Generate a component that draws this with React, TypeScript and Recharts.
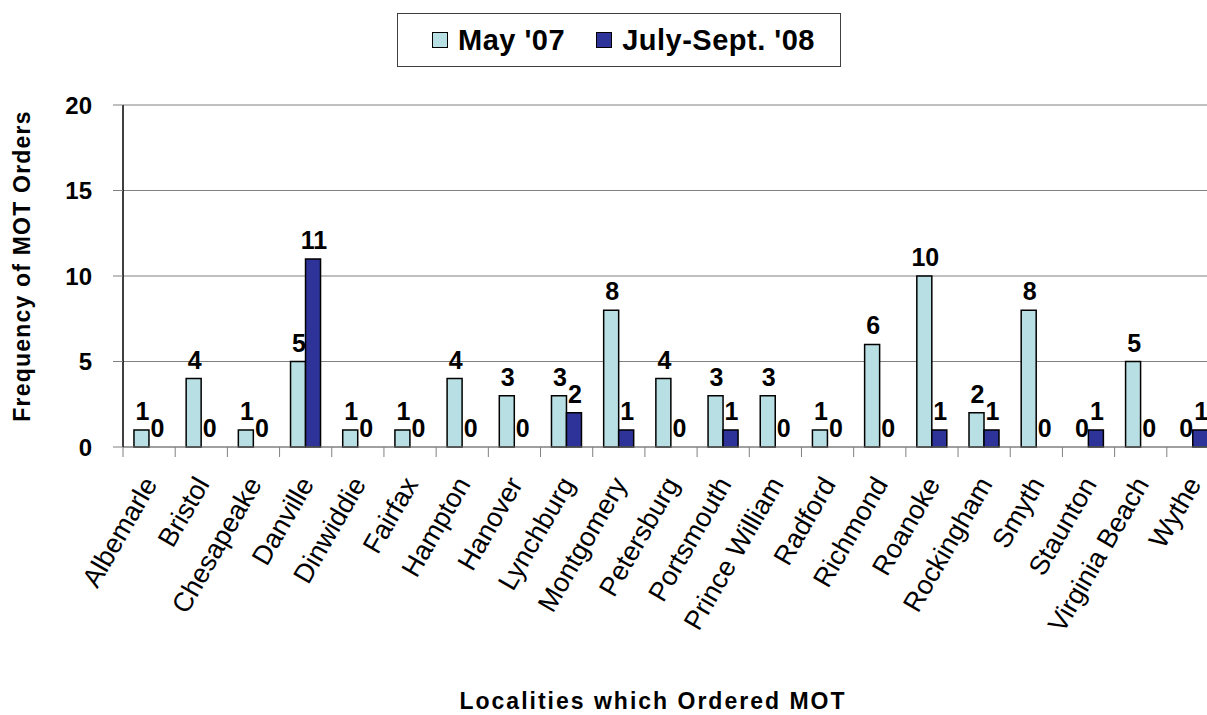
import React from 'react';
import { BarChart, Bar, XAxis, YAxis, CartesianGrid, Legend, LabelList, Label, Cell } from 'recharts';

const localities = ['Albemarle', 'Bristol', 'Chesapeake', 'Danville', 'Dinwiddie', 'Fairfax', 'Hampton', 'Hanover', 'Lynchburg', 'Montgomery', 'Petersburg', 'Portsmouth', 'Prince William', 'Radford', 'Richmond', 'Roanoke', 'Rockingham', 'Smyth', 'Staunton', 'Virginia Beach', 'Wythe'];
const may07 = [1, 4, 1, 5, 1, 1, 4, 3, 3, 8, 4, 3, 3, 1, 6, 10, 2, 8, 0, 5, 0];
const julySept08 = [0, 0, 0, 11, 0, 0, 0, 0, 2, 1, 0, 1, 0, 0, 0, 1, 1, 0, 1, 0, 1];
const yTicks = [0, 5, 10, 15, 20];
const seriesNames = ["May '07", "July-Sept. '08"];
const seriesColors = ['#B8DFE3', '#2E3399'];

const data = localities.map((name, i) => ({ name, may: may07[i], july: julySept08[i] }));

const FONT = '"Liberation Sans", Arial, sans-serif';

const XTick = (props: any) => {
  const { x, y, payload } = props;
  const half = payload && typeof payload.offset === 'number' && payload.offset > 0 ? payload.offset : 26.1;
  const ax = x + 9;
  const ay = y + 37;
  return (
    <g>
      <line x1={x - half} y1={y} x2={x - half} y2={y + 10} stroke="#808080" strokeWidth={1} />
      <text x={ax} y={ay} transform={`rotate(-60, ${ax}, ${ay})`} textAnchor="end" fontSize={27} fontFamily={FONT} fill="#000">
        {payload.value}
      </text>
    </g>
  );
};

const BarValueLabel = (props: any) => {
  const { x, y, width, height, value } = props;
  if (x == null || y == null) return null;
  const top = Math.min(Number(y), Number(y) + Number(height || 0));
  return (
    <text x={Number(x) + Number(width) / 2 + 1} y={top - 10} textAnchor="middle" fontSize={25} fontWeight="bold" fontFamily={FONT} fill="#000">
      {String(value)}
    </text>
  );
};

const LegendContent = () => (
  <div style={{ boxSizing: 'border-box', width: 444, height: 54, border: '1px solid #404040', background: '#fff', display: 'flex', alignItems: 'center', fontFamily: FONT, fontWeight: 'bold', fontSize: 29, letterSpacing: 0.5, color: '#000' }}>
    {seriesNames.map((n, i) => (
      <div key={n} style={{ display: 'flex', alignItems: 'center', marginLeft: i === 0 ? 34 : 31 }}>
        <span style={{ display: 'inline-block', boxSizing: 'border-box', width: 16, height: 16, background: seriesColors[i], border: '1.5px solid #000', marginRight: 10 }} />
        <span style={{ lineHeight: '29px' }}>{n}</span>
      </div>
    ))}
  </div>
);

const YLabel = (props: any) => {
  const vb = props.viewBox || { x: 0, y: 105, width: 123, height: 342 };
  const cx = vb.x + 22;
  const cy = vb.y + vb.height / 2 - 10;
  return (
    <text x={cx} y={cy} transform={`rotate(-90, ${cx}, ${cy})`} textAnchor="middle" dominantBaseline="central" fontSize={23} fontWeight="bold" fontFamily={FONT} letterSpacing={1.2} fill="#000">
      Frequency of MOT Orders
    </text>
  );
};

const XLabel = (props: any) => {
  const vb = props.viewBox || { x: 123, y: 447, width: 1096, height: 268 };
  const cx = vb.x + vb.width / 2 - 18;
  const cy = vb.y + vb.height - 6;
  return (
    <text x={cx} y={cy} textAnchor="middle" fontSize={23} fontWeight="bold" fontFamily={FONT} letterSpacing={2} fill="#000">
      Localities which Ordered MOT
    </text>
  );
};

export default function App() {
  return (
    <div style={{ position: 'fixed', left: 0, top: 0, width: 1207, height: 715, overflow: 'hidden', background: '#fff' }}>
      <BarChart width={1230} height={715} data={data} margin={{ top: 51, right: 11, bottom: 0, left: 0 }} barCategoryGap="21%" barGap={0}>
        <CartesianGrid horizontal vertical={false} stroke="#808080" strokeWidth={1} />
        <XAxis dataKey="name" interval={0} height={268} tickSize={0} tickMargin={0} tick={<XTick />} axisLine={{ stroke: '#808080', strokeWidth: 1 }} tickLine={false}>
          <Label content={<XLabel />} />
        </XAxis>
        <YAxis width={123} domain={[0, 20]} ticks={yTicks} interval={0} tickSize={10} tickMargin={21} axisLine={{ stroke: '#000', strokeWidth: 1.5 }} tickLine={{ stroke: '#808080' }} tick={{ fontSize: 24, fontWeight: 'bold', fontFamily: FONT, fill: '#000' }}>
          <Label content={<YLabel />} />
        </YAxis>
        <Legend verticalAlign="top" align="left" content={<LegendContent />} wrapperStyle={{ top: 13, left: 397, width: 444, height: 54 }} />
        <Bar dataKey="may" name={seriesNames[0]} fill={seriesColors[0]} stroke="#000" strokeWidth={1.5} minPointSize={0.5} isAnimationActive={false}>
          {data.map((d, i) => (
            <Cell key={`m-${i}`} fill={d.may === 0 ? 'none' : seriesColors[0]} stroke={d.may === 0 ? 'none' : '#000'} />
          ))}
          <LabelList dataKey={(d: any) => String(d.may)} content={<BarValueLabel />} />
        </Bar>
        <Bar dataKey="july" name={seriesNames[1]} fill={seriesColors[1]} stroke="#000" strokeWidth={1.5} minPointSize={0.5} isAnimationActive={false}>
          {data.map((d, i) => (
            <Cell key={`j-${i}`} fill={d.july === 0 ? 'none' : seriesColors[1]} stroke={d.july === 0 ? 'none' : '#000'} />
          ))}
          <LabelList dataKey={(d: any) => String(d.july)} content={<BarValueLabel />} />
        </Bar>
      </BarChart>
    </div>
  );
}
